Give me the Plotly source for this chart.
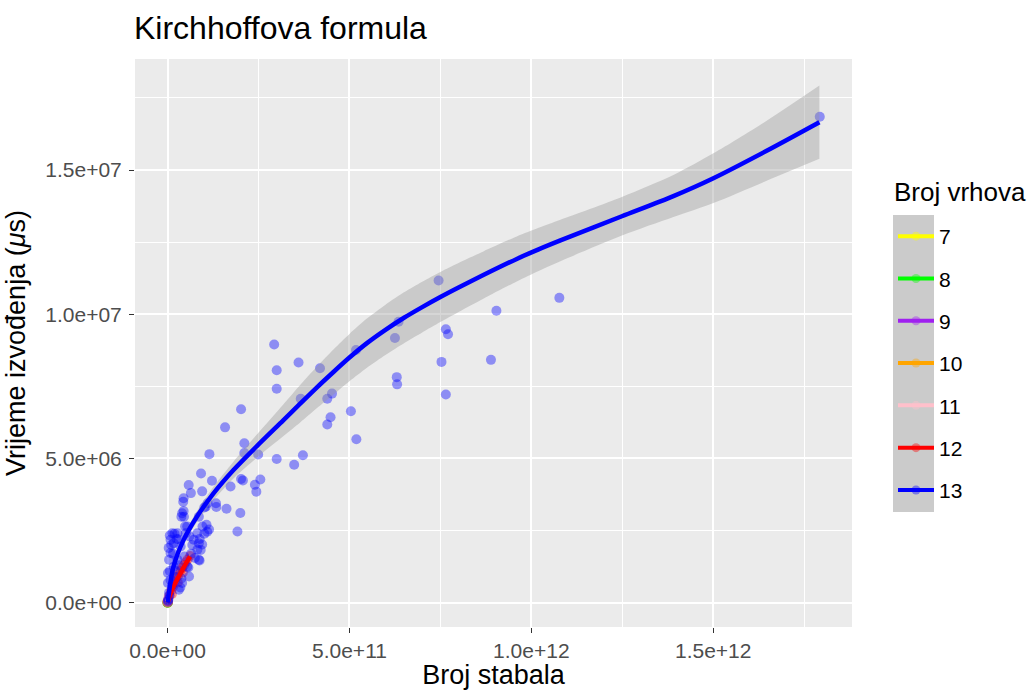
import plotly.graph_objects as go

# ---------------- data ----------------
groups = ["7", "8", "9", "10", "11", "12", "13"]
colors = ["#FFFF00", "#00FF00", "#A020F0", "#FFA500", "#FFC0CB", "#FF0000", "#0000FF"]

# scatter points per group (x = number of spanning trees, y = time in microseconds)
x7 = [3.0e3, 8.0e3, 1.2e4, 1.68e4]
y7 = [2.0e2, 4.0e2, 6.0e2, 9.0e2]
x8 = [2.0e4, 8.0e4, 1.6e5, 2.62e5]
y8 = [8.0e2, 2.5e3, 4.0e3, 6.0e3]
x9 = [3.0e5, 1.2e6, 2.8e6, 4.78e6]
y9 = [4.0e3, 1.0e4, 1.8e4, 2.6e4]
x10 = [1.0e6, 1.0e7, 3.0e7, 6.0e7, 1.0e8]
y10 = [8.0e3, 2.0e4, 3.5e4, 5.0e4, 7.0e4]
x11 = [1.0e8, 5.0e8, 1.0e9, 1.5e9, 2.36e9]
y11 = [4.0e4, 8.0e4, 1.2e5, 1.6e5, 2.0e5]
x12 = [1.0e9, 5.0e9, 1.0e10, 1.2e10, 1.5e10, 2.0e10, 2.5e10, 2.8e10, 3.0e10,
       3.5e10, 4.0e10, 4.2e10, 4.5e10, 5.0e10, 5.5e10, 6.19e10]
y12 = [5.0e4, 2.5e5, 4.2e5, 3.0e5, 5.5e5, 7.5e5, 8.8e5, 7.0e5, 9.5e5,
       1.1e6, 1.2e6, 1.05e6, 1.3e6, 1.4e6, 1.5e6, 1.62e6]
x13 = [1.793e12, 7.45e11, 1.077e12, 9.04e11, 6.35e11, 7.65e11, 7.71e11, 6.25e11,
       2.93e11, 7.53e11, 8.89e11, 3.60e11, 5.18e11, 3.00e11, 4.19e11, 6.30e11,
       6.31e11, 3.00e11, 7.65e11, 4.52e11, 4.39e11, 3.66e11, 2.02e11, 5.04e11,
       4.48e11, 4.39e11, 1.58e11, 5.19e11, 2.11e11, 2.11e11, 1.15e11, 2.49e11,
       3.00e11, 3.72e11, 3.48e11, 9.2e10, 1.22e11, 2.02e11, 2.07e11, 2.55e11,
       5.8e10, 2.40e11, 1.73e11, 2.44e11, 9.5e10, 6.4e10, 4.4e10, 1.10e11,
       1.33e11, 1.01e11, 1.62e11, 1.34e11, 4.4e10, 3.8e10, 2.00e11, 8.6e10,
       1.92e11, 1.07e11, 1.14e11, 4.8e10, 1.9e10, 6.0e9, 2.5e10, 1.01e11,
       8.8e10, 9.5e10, 8.2e10, 8.8e10, 5.7e10, 3.8e10, 3.5e10,
       4.3e10, 4.0e10, 4.5e10, 1.05e11, 5.4e10, 1.3e10, 2.7e10, 5.0e10,
       9.6e10, 1.09e11, 8.2e10, 8.0e9, 1.7e10, 3.6e10, 7.2e10, 8.6e10,
       9.1e10, 8.6e10, 8.0e9, 4.0e9, 5.4e10, 5.9e10, 4.0e10, 1.0e9,
       1.0e9, 4.0e9, 3.1e10, 1.7e10, 8.0e9, 2.7e10,
       2.0e9, 5.0e9, 1.2e10, 2.0e10, 3.0e9, 6.0e9, 1.5e10, 2.2e10,
       3.3e10, 4.6e10, 6.5e10, 7.5e10, 6.8e10, 6.0e10, 3.0e10, 1.0e10,
       5.0e8, 1.5e9]
y13 = [1.685e7, 1.117e7, 1.057e7, 1.012e7, 9.74e6, 9.48e6, 9.31e6, 9.18e6,
       8.95e6, 8.35e6, 8.42e6, 8.33e6, 8.76e6, 8.06e6, 8.13e6, 7.82e6,
       7.57e6, 7.42e6, 7.22e6, 7.25e6, 7.07e6, 7.07e6, 6.71e6, 6.64e6,
       6.43e6, 6.18e6, 6.08e6, 5.67e6, 5.53e6, 5.19e6, 5.15e6, 5.14e6,
       4.98e6, 5.11e6, 4.78e6, 4.48e6, 4.23e6, 4.29e6, 4.24e6, 4.27e6,
       4.08e6, 4.09e6, 4.03e6, 3.85e6, 3.86e6, 3.80e6, 3.62e6, 3.45e6,
       3.45e6, 3.30e6, 3.26e6, 3.32e6, 3.18e6, 2.98e6, 3.11e6, 2.98e6,
       2.47e6, 2.70e6, 2.54e6, 2.64e6, 2.39e6, 2.33e6, 2.21e6, 2.39e6,
       2.21e6, 2.02e6, 1.84e6, 1.46e6, 1.22e6, 8.4e5, 5.3e5,
       3.5e6, 3.1e6, 2.98e6, 3.33e6, 2.64e6, 2.41e6, 2.41e6, 2.41e6,
       2.64e6, 2.46e6, 2.41e6, 2.18e6, 2.06e6, 1.95e6, 2.18e6, 2.06e6,
       1.83e6, 1.49e6, 1.72e6, 1.49e6, 1.25e6, 9.1e5, 6.8e5, 1.03e6,
       6.8e5, 3.4e5, 4.5e5, 1.25e6, 7.9e5, 1.49e6,
       1.2e5, 2.5e5, 6.0e5, 9.0e5, 1.9e6, 1.1e6, 1.7e6, 1.1e6,
       1.3e6, 1.6e6, 1.7e6, 1.55e6, 2.0e6, 2.3e6, 2.2e6, 2.0e6,
       3.0e4, 8.0e4]

# smoothed fits (loess) with confidence bands
sx7 = [3.0e3, 1.68e4];  sy7 = [2.0e2, 9.0e2];  lo7 = [1.0e2, 7.0e2];  hi7 = [3.0e2, 1.1e3]
sx8 = [2.0e4, 2.62e5];  sy8 = [8.0e2, 6.0e3];  lo8 = [5.0e2, 5.0e3];  hi8 = [1.1e3, 7.0e3]
sx9 = [3.0e5, 4.78e6];  sy9 = [4.0e3, 2.6e4];  lo9 = [3.0e3, 2.2e4];  hi9 = [5.0e3, 3.0e4]
sx10 = [1.0e6, 1.0e8];  sy10 = [8.0e3, 7.0e4]; lo10 = [6.0e3, 6.0e4]; hi10 = [1.0e4, 8.0e4]
sx11 = [1.0e8, 2.36e9]; sy11 = [4.0e4, 2.0e5]; lo11 = [3.0e4, 1.7e5]; hi11 = [5.0e4, 2.3e5]
sx12 = [0.0, 1.18e10, 2.56e10, 4.0e10, 5.0e10, 6.19e10]
sy12 = [0.0, 4.4e5, 7.9e5, 1.12e6, 1.35e6, 1.6e6]
lo12 = [-6.0e4, 3.8e5, 7.2e5, 1.03e6, 1.24e6, 1.47e6]
hi12 = [6.0e4, 5.0e5, 8.6e5, 1.21e6, 1.46e6, 1.73e6]
sx13 = [0.0, 1.62e10, 4.37e10, 8.05e10, 1.262e11, 1.811e11, 2.455e11, 3.186e11,
        3.645e11, 4.10e11, 4.56e11, 5.0e11, 5.48e11, 6.0e11, 6.5e11, 7.0e11,
        7.5e11, 8.0e11, 8.68e11, 9.6e11, 1.02e12, 1.08e12, 1.249e12, 1.3906e12,
        1.5006e12, 1.647e12, 1.792e12]
sy13 = [0.0, 1.25e6, 2.17e6, 2.98e6, 3.79e6, 4.60e6, 5.43e6, 6.33e6,
        6.90e6, 7.46e6, 8.00e6, 8.50e6, 9.00e6, 9.47e6, 9.88e6, 1.025e7,
        1.060e7, 1.093e7, 1.136e7, 1.192e7, 1.225e7, 1.256e7, 1.340e7, 1.410e7,
        1.472e7, 1.567e7, 1.666e7]
lo13 = [-1.0e5, 1.13e6, 2.02e6, 2.79e6, 3.56e6, 4.31e6, 5.03e6, 5.78e6,
        6.25e6, 6.74e6, 7.22e6, 7.68e6, 8.15e6, 8.60e6, 9.00e6, 9.37e6,
        9.73e6, 1.008e7, 1.054e7, 1.114e7, 1.150e7, 1.184e7, 1.273e7, 1.337e7,
        1.386e7, 1.463e7, 1.539e7]
hi13 = [1.0e5, 1.37e6, 2.32e6, 3.17e6, 4.02e6, 4.89e6, 5.83e6, 6.88e6,
        7.55e6, 8.18e6, 8.78e6, 9.32e6, 9.85e6, 1.034e7, 1.076e7, 1.113e7,
        1.147e7, 1.178e7, 1.218e7, 1.270e7, 1.300e7, 1.328e7, 1.407e7, 1.483e7,
        1.558e7, 1.671e7, 1.793e7]

x_ticks = [0, 5e11, 1e12, 1.5e12]
x_ticktext = ["0.0e+00", "5.0e+11", "1.0e+12", "1.5e+12"]
x_minor = [2.5e11, 7.5e11, 1.25e12, 1.75e12]
y_ticks = [0, 5e6, 1e7, 1.5e7]
y_ticktext = ["0.0e+00", "5.0e+06", "1.0e+07", "1.5e+07"]
y_minor = [2.5e6, 7.5e6, 1.25e7, 1.75e7]

points = [(x7, y7), (x8, y8), (x9, y9), (x10, y10), (x11, y11), (x12, y12), (x13, y13)]
smooths = [(sx7, sy7, lo7, hi7), (sx8, sy8, lo8, hi8), (sx9, sy9, lo9, hi9),
           (sx10, sy10, lo10, hi10), (sx11, sy11, lo11, hi11),
           (sx12, sy12, lo12, hi12), (sx13, sy13, lo13, hi13)]


def rgba(hexcol, a):
    h = hexcol.lstrip("#")
    return "rgba(%d,%d,%d,%s)" % (int(h[0:2], 16), int(h[2:4], 16), int(h[4:6], 16), a)


FONT = "Liberation Sans, Arial, Helvetica, sans-serif"
fig = go.Figure()

# points layer
for g, c, (px, py) in zip(groups, colors, points):
    fig.add_trace(go.Scatter(x=px, y=py, mode="markers", showlegend=False,
                             marker=dict(color=rgba(c, 0.4), size=10, line=dict(width=0)),
                             hoverinfo="skip"))

# smooth layer: ribbon (lower, upper filled to lower) + line per group
for g, c, (sx, sy, lo, hi) in zip(groups, colors, smooths):
    fig.add_trace(go.Scatter(x=sx, y=lo, mode="lines", showlegend=False,
                             line=dict(width=0, shape="spline", smoothing=0.8),
                             hoverinfo="skip"))
    fig.add_trace(go.Scatter(x=sx, y=hi, mode="lines", showlegend=False,
                             fill="tonexty", fillcolor="rgba(153,153,153,0.4)",
                             line=dict(width=0, shape="spline", smoothing=0.8),
                             hoverinfo="skip"))
    fig.add_trace(go.Scatter(x=sx, y=sy, mode="lines", showlegend=False,
                             line=dict(color=c, width=4.5, shape="spline", smoothing=0.8),
                             hoverinfo="skip"))

# legend entries
for g, c in zip(groups, colors):
    fig.add_trace(go.Scatter(x=[None], y=[None], mode="lines+markers", name=g,
                             legendgroup=g,
                             line=dict(color=c, width=4),
                             marker=dict(color=c, size=9, opacity=0.4)))

# plot area geometry (px)
L, R, T, B = 135, 852, 59, 627
W, H = 1031, 690


def px2paper_x(p):
    return (p - L) / (R - L)


def px2paper_y(p):
    return (B - p) / (B - T)


fig.add_shape(type="rect", xref="paper", yref="paper",
              x0=px2paper_x(893), x1=px2paper_x(934),
              y0=px2paper_y(512), y1=px2paper_y(215),
              fillcolor="#CBCBCB", line=dict(width=0), layer="below")

fig.add_annotation(text="Broj vrhova", xref="paper", yref="paper",
                   x=px2paper_x(892), xanchor="left", y=px2paper_y(192), yanchor="middle",
                   showarrow=False, font=dict(size=26, color="black", family=FONT))

fig.update_layout(
    width=W, height=H,
    margin=dict(l=L, r=W - R, t=T, b=H - B, pad=0),
    paper_bgcolor="white", plot_bgcolor="#EBEBEB",
    font=dict(family=FONT, color="black"),
    title=dict(text="Kirchhoffova formula", xref="container", x=134 / W, xanchor="left",
               yref="container", y=1 - 28 / H, yanchor="middle",
               font=dict(size=32, color="black", family=FONT)),
    xaxis=dict(range=[-8.96e10, 1.8816e12], tickmode="array", tickvals=x_ticks,
               ticktext=x_ticktext, ticks="outside", ticklen=5, tickwidth=1.1,
               tickcolor="#333333", tickfont=dict(size=21, color="#4D4D4D", family=FONT),
               showgrid=True, gridcolor="white", gridwidth=1.6, zeroline=False,
               showline=False,
               minor=dict(tickvals=x_minor, showgrid=True, gridcolor="white", gridwidth=0.8),
               title=dict(text="Broj stabala", font=dict(size=27, color="black", family=FONT),
                          standoff=8),
               automargin=False),
    yaxis=dict(range=[-8.43e5, 1.8852e7], tickmode="array", tickvals=y_ticks,
               ticktext=y_ticktext, ticks="outside", ticklen=5, tickwidth=1.1,
               tickcolor="#333333", tickfont=dict(size=21, color="#4D4D4D", family=FONT),
               ticklabelstandoff=3,
               showgrid=True, gridcolor="white", gridwidth=1.6, zeroline=False,
               showline=False,
               minor=dict(tickvals=y_minor, showgrid=True, gridcolor="white", gridwidth=0.8),
               title=dict(text="Vrijeme izvođenja (<i>μ</i>s)",
                          font=dict(size=27, color="black", family=FONT), standoff=11),
               automargin=False),
    legend=dict(xref="container", yref="container", x=893 / W, xanchor="left",
                y=1 - 216 / H, yanchor="top", bgcolor="rgba(0,0,0,0)",
                font=dict(size=21, color="black", family=FONT),
                tracegroupgap=12, itemwidth=36, traceorder="grouped"),
)

fig.write_html("out.html")
